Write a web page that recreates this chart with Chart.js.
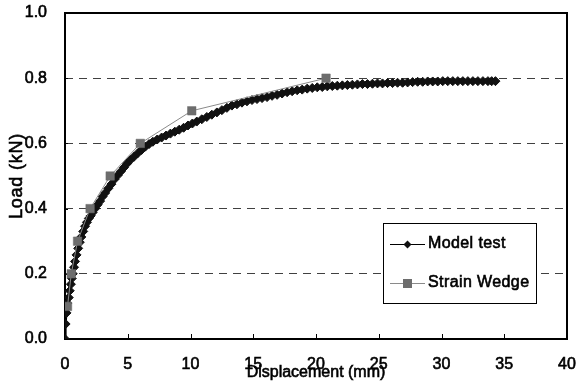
<!DOCTYPE html>
<html>
<head>
<meta charset="utf-8">
<script src="https://cdn.jsdelivr.net/npm/chart.js@4.4.0/dist/chart.umd.min.js"></script>
<style>
html, body { margin: 0; padding: 0; background: #fff; }
#wrap { width: 577px; height: 387px; }
</style>
</head>
<body>
<div id="wrap"><canvas id="chart" width="577" height="387"></canvas></div>
<script>
// Model test (measured) curve
const modelX = [0, 0.05, 0.12, 0.18, 0.3, 0.38, 0.47, 0.55, 0.62, 0.72, 0.8, 0.92, 1.05, 1.18, 1.3, 1.45,
  1.6, 1.75, 1.9, 2.05, 2.2, 2.4, 2.6, 2.8, 3.0, 3.2, 3.45, 3.7, 3.95, 4.2, 4.45, 4.7, 4.95, 5.2, 5.5,
  5.8, 6.1, 6.4, 6.7, 7.0, 7.35, 7.7, 8.05, 8.4, 8.75, 9.1, 9.45, 9.8, 10.15, 10.5, 10.9, 11.3, 11.7,
  12.1, 12.5, 12.9, 13.3, 13.7, 14.1, 14.5, 14.9, 15.3, 15.7, 16.1, 16.5, 16.9, 17.3, 17.7, 18.1, 18.5,
  18.9, 19.3, 19.7, 20.1, 20.5, 20.9, 21.3, 21.7, 22.1, 22.5, 22.9, 23.3, 23.7, 24.1, 24.5, 24.9, 25.3,
  25.7, 26.1, 26.5, 26.9, 27.3, 27.7, 28.1, 28.5, 28.9, 29.3, 29.7, 30.1, 30.5, 30.9, 31.3, 31.7, 32.1,
  32.5, 32.9, 33.3, 33.7, 34.0, 34.3];
const modelY = [0, 0.046, 0.08, 0.11, 0.127, 0.148, 0.168, 0.186, 0.2, 0.22, 0.238, 0.258, 0.278, 0.297, 0.313, 0.33,
  0.346, 0.358, 0.37, 0.378, 0.388, 0.4, 0.412, 0.423, 0.437, 0.448, 0.462, 0.475, 0.49, 0.502, 0.514, 0.526, 0.538, 0.549, 0.559,
  0.57, 0.58, 0.59, 0.598, 0.605, 0.612, 0.618, 0.624, 0.63, 0.636, 0.642, 0.648, 0.655, 0.661, 0.667, 0.674, 0.681, 0.688,
  0.695, 0.702, 0.709, 0.716, 0.72, 0.725, 0.729, 0.733, 0.736, 0.739, 0.742, 0.746, 0.749, 0.753, 0.757, 0.76, 0.763,
  0.765, 0.768, 0.77, 0.772, 0.773, 0.775, 0.776, 0.777, 0.778, 0.779, 0.78, 0.781, 0.782, 0.782, 0.783, 0.784, 0.784,
  0.785, 0.785, 0.786, 0.786, 0.787, 0.788, 0.789, 0.789, 0.79, 0.79, 0.79, 0.791, 0.791, 0.791, 0.791, 0.791, 0.791,
  0.791, 0.791, 0.791, 0.791, 0.791, 0.791];

// Strain Wedge prediction
const wedgeX = [0.2, 0.5, 1.0, 2.0, 3.6, 6.0, 10.1, 20.8];
const wedgeY = [0.1, 0.2, 0.3, 0.4, 0.5, 0.6, 0.7, 0.8];

const seriesNames = ['Model test', 'Strain Wedge'];
const xTitle = 'Displacement (mm)';
const yTitle = 'Load (kN)';
const xMin = 0, xMax = 40, xStep = 5;
const yMin = 0, yMax = 1.0, yStep = 0.2;

const FONT = '"Liberation Sans", Arial, sans-serif';

function toPoints(xs, ys) {
    return xs.map((x, i) => ({ x: x, y: ys[i] }));
}

function diamond(ctx, x, y, r) {
    ctx.beginPath();
    ctx.moveTo(x - r, y);
    ctx.lineTo(x, y - r);
    ctx.lineTo(x + r, y);
    ctx.lineTo(x, y + r);
    ctx.closePath();
    ctx.fill();
}

// heavier text like the original
function boldText(ctx, text, x, y) {
    ctx.fillText(text, x, y);
    ctx.strokeText(text, x, y);
}

const framePlugin = {
    id: 'frame',
    beforeDatasetsDraw(chart) {
        const { ctx, chartArea: a, scales } = chart;
        ctx.save();
        ctx.strokeStyle = '#000';
        ctx.lineWidth = 1;
        ctx.beginPath();
        scales.x.ticks.forEach(t => {
            const px = Math.round(scales.x.getPixelForValue(t.value)) + 0.5;
            ctx.moveTo(px, a.bottom);
            ctx.lineTo(px, a.bottom - 5);
        });
        scales.y.ticks.forEach(t => {
            const py = Math.round(scales.y.getPixelForValue(t.value)) + 0.5;
            ctx.moveTo(a.left, py);
            ctx.lineTo(a.left + 3, py);
        });
        ctx.stroke();
        ctx.lineWidth = 2;
        ctx.strokeRect(a.left, a.top, a.right - a.left, a.bottom - a.top);
        ctx.restore();
    },
    afterDraw(chart) {
        const { ctx, chartArea: a } = chart;
        ctx.save();
        ctx.fillStyle = '#000';
        ctx.strokeStyle = '#000';
        ctx.lineWidth = 0.6;

        // axis titles
        ctx.font = '16px ' + FONT;
        ctx.textAlign = 'center';
        ctx.textBaseline = 'middle';
        boldText(ctx, xTitle, (a.left + a.right) / 2, 373);

        ctx.save();
        ctx.translate(17, (a.top + a.bottom) / 2);
        ctx.rotate(-Math.PI / 2);
        ctx.font = '18px ' + FONT;
        ctx.letterSpacing = '0.8px';
        boldText(ctx, yTitle, 0, 0);
        ctx.restore();

        // legend box
        const lx = 383, ly = 223, lw = 153, lh = 80;
        ctx.fillStyle = '#fff';
        ctx.fillRect(lx, ly, lw, lh);
        ctx.strokeStyle = '#000';
        ctx.lineWidth = 1;
        ctx.strokeRect(lx + 0.5, ly + 0.5, lw, lh);

        const rows = [244, 283];
        ctx.font = '16px ' + FONT;
        ctx.textAlign = 'left';
        ctx.textBaseline = 'middle';

        // Model test
        ctx.strokeStyle = '#000';
        ctx.beginPath();
        ctx.moveTo(390, rows[0] + 0.5);
        ctx.lineTo(425, rows[0] + 0.5);
        ctx.stroke();
        ctx.fillStyle = '#111';
        diamond(ctx, 407.5, rows[0] + 0.5, 4);

        // Strain Wedge
        ctx.strokeStyle = '#8a8a8a';
        ctx.beginPath();
        ctx.moveTo(390, rows[1] + 0.5);
        ctx.lineTo(425, rows[1] + 0.5);
        ctx.stroke();
        ctx.fillStyle = '#6d6d6d';
        ctx.fillRect(403, rows[1] - 4, 9, 9);

        ctx.fillStyle = '#000';
        ctx.strokeStyle = '#000';
        ctx.lineWidth = 0.6;
        ctx.letterSpacing = '0.4px';
        boldText(ctx, seriesNames[0], 428, rows[0]);
        boldText(ctx, seriesNames[1], 428, rows[1]);

        ctx.restore();
    }
};

Chart.defaults.font.family = FONT;
Chart.defaults.font.size = 16;
Chart.defaults.color = '#000';

new Chart(document.getElementById('chart'), {
    type: 'scatter',
    data: {
        datasets: [{
            label: seriesNames[0],
            data: toPoints(modelX, modelY),
            showLine: true,
            borderColor: '#000',
            borderWidth: 2,
            pointStyle: 'rectRot',
            pointRadius: 4.5,
            pointBackgroundColor: '#111',
            pointBorderColor: '#111',
            pointBorderWidth: 1,
            order: 1
        }, {
            label: seriesNames[1],
            data: toPoints(wedgeX, wedgeY),
            showLine: true,
            borderColor: '#8a8a8a',
            borderWidth: 1,
            pointStyle: 'rect',
            pointRadius: 6,
            pointBackgroundColor: '#6d6d6d',
            pointBorderColor: '#6d6d6d',
            pointBorderWidth: 0.5,
            order: 0
        }]
    },
    options: {
        responsive: false,
        animation: false,
        layout: { padding: { left: 0, top: 13, right: 10, bottom: 0 } },
        plugins: {
            legend: { display: false },
            tooltip: { enabled: false }
        },
        scales: {
            x: {
                type: 'linear',
                min: xMin,
                max: xMax,
                ticks: { stepSize: xStep, padding: 16, maxRotation: 0, textStrokeColor: '#000', textStrokeWidth: 0.6 },
                grid: { display: false, drawTicks: false },
                border: { display: false },
                afterFit(scale) {
                    scale.height = 48;
                    scale.paddingLeft = 0;
                    scale.paddingRight = 0;
                }
            },
            y: {
                type: 'linear',
                min: yMin,
                max: yMax,
                ticks: { stepSize: yStep, padding: 18, callback: v => v.toFixed(1), textStrokeColor: '#000', textStrokeWidth: 0.6 },
                grid: { color: '#404040', lineWidth: 1, drawTicks: false },
                border: { display: false, dash: [8, 6] },
                afterFit(scale) {
                    scale.width = 65;
                    scale.paddingTop = 0;
                    scale.paddingBottom = 0;
                }
            }
        }
    },
    plugins: [framePlugin]
});
</script>
</body>
</html>
